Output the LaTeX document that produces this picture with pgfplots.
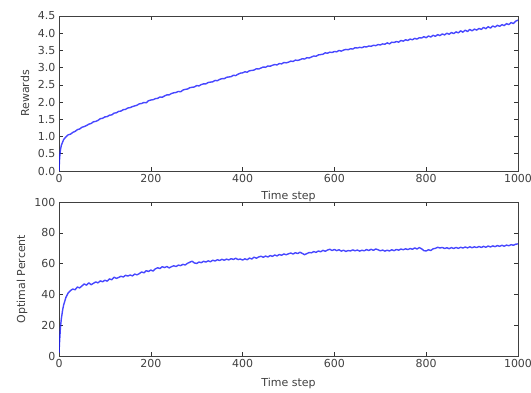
\documentclass[border=0pt]{standalone}
\usepackage{pgfplots}
\pgfplotsset{compat=1.18}
\usepackage{pgfplotstable}
\usepackage{fontspec}
\setmainfont{DejaVu Sans}

% Average reward per time step
\pgfplotstableread{
t r
0 0.00
1 0.30
2 0.48
3 0.60
5 0.74
10 0.91
15 0.99
20 1.05
25 1.07
30 1.12
35 1.15
40 1.20
45 1.22
50 1.27
55 1.29
60 1.32
65 1.36
70 1.38
75 1.43
80 1.44
85 1.47
90 1.52
95 1.53
100 1.57
105 1.58
110 1.62
115 1.63
120 1.68
125 1.69
130 1.73
135 1.74
140 1.78
145 1.79
150 1.83
155 1.84
160 1.87
165 1.89
170 1.91
175 1.95
180 1.96
185 1.99
190 1.98
195 2.04
200 2.06
205 2.07
210 2.10
215 2.11
220 2.15
225 2.14
230 2.18
235 2.21
240 2.21
245 2.25
250 2.27
255 2.28
260 2.31
265 2.30
270 2.35
275 2.37
280 2.38
285 2.42
290 2.43
295 2.44
300 2.48
305 2.47
310 2.51
315 2.53
320 2.53
325 2.57
330 2.58
335 2.59
340 2.63
345 2.62
350 2.66
355 2.68
360 2.68
365 2.72
370 2.73
375 2.74
380 2.78
385 2.77
390 2.81
395 2.84
400 2.85
405 2.88
410 2.87
415 2.91
420 2.92
425 2.93
430 2.97
435 2.96
440 2.99
445 3.02
450 3.01
455 3.05
460 3.04
465 3.07
470 3.09
475 3.08
480 3.12
485 3.11
490 3.15
495 3.14
500 3.16
505 3.19
510 3.18
515 3.22
520 3.21
525 3.23
530 3.26
535 3.25
540 3.29
545 3.28
550 3.31
555 3.34
560 3.33
565 3.37
570 3.38
575 3.39
580 3.43
585 3.42
590 3.45
595 3.44
600 3.47
605 3.46
610 3.50
615 3.48
620 3.51
625 3.53
630 3.52
635 3.55
640 3.54
645 3.58
650 3.57
655 3.59
660 3.58
665 3.61
670 3.60
675 3.63
680 3.62
685 3.65
690 3.64
695 3.67
700 3.66
705 3.69
710 3.68
715 3.72
720 3.69
725 3.74
730 3.73
735 3.76
740 3.74
745 3.79
750 3.77
755 3.81
760 3.79
765 3.83
770 3.81
775 3.85
780 3.83
785 3.87
790 3.86
795 3.90
800 3.87
805 3.92
810 3.89
815 3.94
820 3.91
825 3.96
830 3.93
835 3.98
840 3.95
845 4.00
850 3.97
855 4.02
860 3.99
865 4.04
870 4.01
875 4.07
880 4.03
885 4.09
890 4.05
895 4.11
900 4.07
905 4.12
910 4.09
915 4.14
920 4.11
925 4.17
930 4.13
935 4.19
940 4.15
945 4.21
950 4.18
955 4.23
960 4.20
965 4.25
970 4.22
975 4.28
980 4.25
985 4.31
990 4.28
995 4.35
1000 4.38
}\rewards

% Share of optimal actions (percent) per time step
\pgfplotstableread{
t p
0 2
1 8
2 13
3 18
5 24
8 30
10 33
15 38
20 41
25 42.5
30 43.5
35 43
40 44.8
45 44.2
50 45.5
55 46.8
60 46
65 47.5
70 46.3
75 47.2
80 48.1
85 47.5
90 48.8
95 48.2
100 49.2
105 48.6
110 50.1
115 49.5
120 51.2
125 50.4
130 51
135 51.8
140 51.3
145 52.4
150 51.9
155 52.6
160 52
165 53.2
170 52.7
175 53.5
180 54.6
185 54
190 55.4
195 54.9
200 55.8
205 55.2
210 56.6
215 57.3
220 56.8
225 58
230 57.4
235 58.1
240 57.2
245 58
250 58.6
255 58.1
260 59
265 58.7
270 59.5
275 59.1
280 60.2
285 60.9
290 61.6
295 60.4
300 60.1
305 61
310 60.6
315 61.5
320 61
325 61.8
330 61.2
335 62.2
340 61.7
345 62.5
350 62
355 62.8
360 62.2
365 62.9
370 62.4
375 63.2
380 62.7
385 63.5
390 62.6
395 63
400 62.3
405 63.1
410 62.5
415 63.6
420 63
425 64.2
430 63.5
435 64.3
440 64.8
445 64.1
450 64.9
455 64.3
460 65.2
465 64.7
470 65.6
475 65
480 65.9
485 65.4
490 66.3
495 65.7
500 66.4
505 66.9
510 66.2
515 67.1
520 66.5
525 67.4
530 66.6
535 65.8
540 66.5
545 67.2
550 67
555 67.8
560 67.3
565 68.2
570 67.7
575 68.6
580 68
585 68.8
590 69.3
595 68.5
600 69.2
605 68.4
610 69
615 68.1
620 68.7
625 67.9
630 68.5
635 68.2
640 68.9
645 68.3
650 68.8
655 68.1
660 68.7
665 68.3
670 69.1
675 68.5
680 69.3
685 68.6
690 69.5
695 69
700 68.3
705 68.8
710 68.1
715 68.7
720 68.2
725 69
730 68.4
735 69.2
740 68.7
745 69.5
750 69
755 69.6
760 69.1
765 69.8
770 69.3
775 70.2
780 69.5
785 70.4
790 69.6
795 68.4
800 68.2
805 69
810 68.5
815 69.6
820 69.9
825 70.6
830 70.1
835 70.5
840 69.8
845 70.3
850 69.7
855 70.4
860 69.8
865 70.5
870 69.9
875 70.6
880 70.1
885 70.8
890 70.2
895 70.9
900 70.3
905 70.9
910 70.4
915 71.1
920 70.5
925 71.2
930 70.6
935 71.4
940 70.8
945 71.5
950 71
955 71.7
960 71.2
965 71.9
970 71.3
975 72
980 71.6
985 72.3
990 71.9
995 72.6
1000 72.8
}\optimal

\pgfplotsset{
  panel/.style={
    scale only axis,
    width=459pt,
    anchor=south west,
    xmin=0, xmax=1000,
    xtick={0,200,400,600,800,1000},
    tick align=inside,
    major tick length=4pt,
    tick style={black!80, line width=0.6pt},
    axis line style={black!75, line width=0.9pt},
    /pgf/number format/assume math mode=true,
    /pgf/number format/1000 sep={},
    ticklabel style={font=\fontsize{11}{13}\selectfont, text=black!75},
    label style={font=\fontsize{11}{13}\selectfont, text=black!75},
    xlabel={Time step},
  },
  curve/.style={blue!90!white, line width=1.4pt, opacity=0.8, line join=round},
}

\begin{document}
\begin{tikzpicture}
\begin{axis}[panel,
  at={(59pt,221pt)}, height=155pt,
  ymin=0, ymax=4.5,
  ytick={0,0.5,...,4.5},
  yticklabel style={/pgf/number format/fixed, /pgf/number format/fixed zerofill, /pgf/number format/precision=1},
  ylabel={Rewards},
  xlabel style={at={(axis description cs:0.5,-0.165)}, anchor=center},
  ylabel style={at={(axis description cs:-0.074,0.5)}, anchor=center},
]
\addplot[curve] table[x=t, y=r] {\rewards};
\end{axis}

\begin{axis}[panel,
  at={(59pt,36pt)}, height=154pt,
  ymin=0, ymax=100,
  ytick={0,20,...,100},
  ylabel={Optimal Percent},
  xlabel style={at={(axis description cs:0.5,-0.178)}, anchor=center},
  ylabel style={at={(axis description cs:-0.0806,0.5)}, anchor=center},
]
\addplot[curve] table[x=t, y=p] {\optimal};
\end{axis}

\pgfresetboundingbox
\useasboundingbox (0pt,0pt) rectangle (531pt,392pt);
\end{tikzpicture}
\end{document}
